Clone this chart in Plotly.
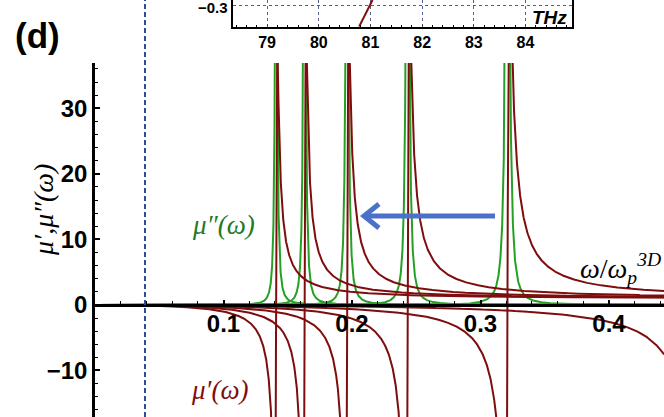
import numpy as np
import plotly.graph_objects as go

W, H = 664, 417

# ---- data ----
# resonance frequencies (omega / omega_p^3D), oscillator strengths and dampings
res_freq = [0.1409, 0.1630, 0.1961, 0.2432, 0.3210]
res_strength = [1.0, 1.0, 1.0, 1.0, 1.0]
res_gamma = [0.0018, 0.0019, 0.0021, 0.0024, 0.0030]
# one more resonance above the visible range: only the low-frequency wing of mu' is seen
extra_freq = [0.4711]
extra_strength = [1.0]
extra_gamma = [0.0030]

x_range = [0.0, 0.4428]
y_range = [-17.1, 36.9]
x_ticks = [0.1, 0.2, 0.3, 0.4]
y_ticks = [-10, 0, 10, 20, 30]
y_tick_text = ["\u221210", "0", "10", "20", "30"]
marker_line_x = 0.0389  # blue dashed vertical line

# inset (only its lower strip is visible)
inset_thz_ticks = [79, 80, 81, 82, 83, 84]
inset_x_range = [78.34, 84.90]
inset_y_range = [-0.38, -0.28]
inset_y_ticks = [-0.3]
inset_curve_thz = [80.78, 81.04]
inset_curve_val = [-0.38, -0.28]

GREEN = "#25A025"
BROWN = "#7E0E0E"
BLUE_ARROW = "#4A72C8"
DASH_BLUE = "#2C4C9C"


def px(x):
    return x / W


def py(y):
    return 1 - y / H


omega = np.linspace(x_range[0], x_range[1], 14001)


def mu(w0, F, g):
    return F * omega**2 / (omega**2 - w0**2 + 1j * g * omega)


fig = go.Figure()

# mu'' (green)
for w0, F, g in zip(res_freq, res_strength, res_gamma):
    m = mu(w0, F, g)
    fig.add_trace(go.Scatter(x=omega, y=np.round(-m.imag, 4), mode="lines",
                             line=dict(color=GREEN, width=2), showlegend=False,
                             hoverinfo="skip"))
# mu' (brown)
for w0, F, g in zip(res_freq + extra_freq, res_strength + extra_strength,
                    res_gamma + extra_gamma):
    m = mu(w0, F, g)
    fig.add_trace(go.Scatter(x=omega, y=np.round(m.real, 4), mode="lines",
                             line=dict(color=BROWN, width=2), showlegend=False,
                             hoverinfo="skip"))

# inset curve
fig.add_trace(go.Scatter(x=inset_curve_thz, y=inset_curve_val, mode="lines",
                         line=dict(color=BROWN, width=2), xaxis="x2", yaxis="y2",
                         showlegend=False, hoverinfo="skip"))

tick_font = dict(family="Liberation Sans, Arial", size=24, color="black", weight="bold")

fig.update_layout(
    width=W, height=H,
    margin=dict(l=0, r=0, t=0, b=0, autoexpand=False),
    paper_bgcolor="white", plot_bgcolor="rgba(0,0,0,0)",
    xaxis=dict(
        domain=[95 / W, 1], range=x_range, anchor="free", position=(H - 305) / H,
        showgrid=False, zeroline=False, showline=True, linecolor="black", linewidth=2.5,
        tickmode="array", tickvals=x_ticks, ticktext=[str(v) for v in x_ticks],
        ticks="inside", ticklen=4, tickwidth=1.5, tickcolor="black",
        minor=dict(dtick=0.02, tick0=0, ticks="inside", ticklen=3, tickwidth=1, tickcolor="black"),
        tickfont=tick_font, automargin=False, layer="above traces", ticklabelstandoff=-4,
    ),
    yaxis=dict(
        domain=[0, (H - 63) / H], range=y_range, anchor="x",
        showgrid=False, zeroline=False, showline=True, linecolor="black", linewidth=2.5,
        tickmode="array", tickvals=y_ticks, ticktext=y_tick_text,
        ticks="inside", ticklen=5, tickwidth=1.5, tickcolor="black",
        minor=dict(dtick=2, tick0=0, ticks="inside", ticklen=3, tickwidth=1, tickcolor="black"),
        tickfont=tick_font, automargin=False, layer="above traces",
    ),
    xaxis2=dict(
        domain=[233 / W, 572 / W], range=inset_x_range, anchor="y2",
        showgrid=True, gridcolor="#55608f", griddash="dot", gridwidth=1,
        zeroline=False, showline=True, linecolor="black", linewidth=2, mirror=False,
        tickmode="array", tickvals=inset_thz_ticks, ticks="inside", ticklen=3,
        minor=dict(dtick=0.2, tick0=79, ticks="inside", ticklen=2, tickcolor="black"),
        tickfont=dict(family="Liberation Sans, Arial", size=16, color="black", weight="bold"),
        automargin=False,
    ),
    yaxis2=dict(
        domain=[(H - 26.7) / H, 1], range=inset_y_range, anchor="x2",
        showgrid=True, gridcolor="#55608f", griddash="dot", gridwidth=1,
        zeroline=False, showline=True, linecolor="black", linewidth=2, mirror=True,
        tickmode="array", tickvals=inset_y_ticks, showticklabels=False, ticks="",
        automargin=False,
    ),
)

# blue dashed vertical line
fig.add_shape(type="line", xref="x", yref="paper", x0=marker_line_x, x1=marker_line_x,
              y0=0, y1=1, line=dict(color=DASH_BLUE, width=2, dash="5px,3px"), layer="above")

# blue arrow (pointing left)
fig.add_shape(type="line", xref="paper", yref="paper", x0=px(495), x1=px(366),
              y0=py(216), y1=py(216), line=dict(color=BLUE_ARROW, width=5))
fig.add_shape(type="path", xref="paper", yref="paper",
              path=f"M {px(379)} {py(204)} L {px(364)} {py(216)} L {px(379)} {py(228)}",
              line=dict(color=BLUE_ARROW, width=5))

serif = "Liberation Serif, Times New Roman, serif"
ann = [
    dict(text="<b>(d)</b>", x=px(37), y=py(35), font=dict(family="Liberation Sans, Arial", size=35, color="black")),
    dict(text="<i>μ′,μ″(ω)</i>", x=px(43), y=py(210), textangle=-90,
         font=dict(family=serif, size=28, color="black")),
    dict(text="<i>μ″(ω)</i>", x=px(223), y=py(225), font=dict(family=serif, size=27, color="#1E7A1E")),
    dict(text="<i>μ′(ω)</i>", x=px(220), y=py(390), font=dict(family=serif, size=27, color=BROWN)),
    dict(text="<i>ω</i>/<i>ω<sub>p</sub><sup>3D</sup></i>", x=px(578), y=py(268), xanchor="left",
         font=dict(family=serif, size=28, color="black")),
    dict(text="<b><i>THz</i></b>", x=px(549), y=py(18), font=dict(family="Liberation Sans, Arial", size=19, color="black")),
    dict(text="<b>\u22120.3</b>", x=px(230), y=py(7), xanchor="right", font=dict(family="Liberation Sans, Arial", size=15, color="black")),
]
for a in ann:
    a.setdefault("xanchor", "center")
    fig.add_annotation(xref="paper", yref="paper", yanchor="middle", showarrow=False, **a)

fig.write_html("out.html")
